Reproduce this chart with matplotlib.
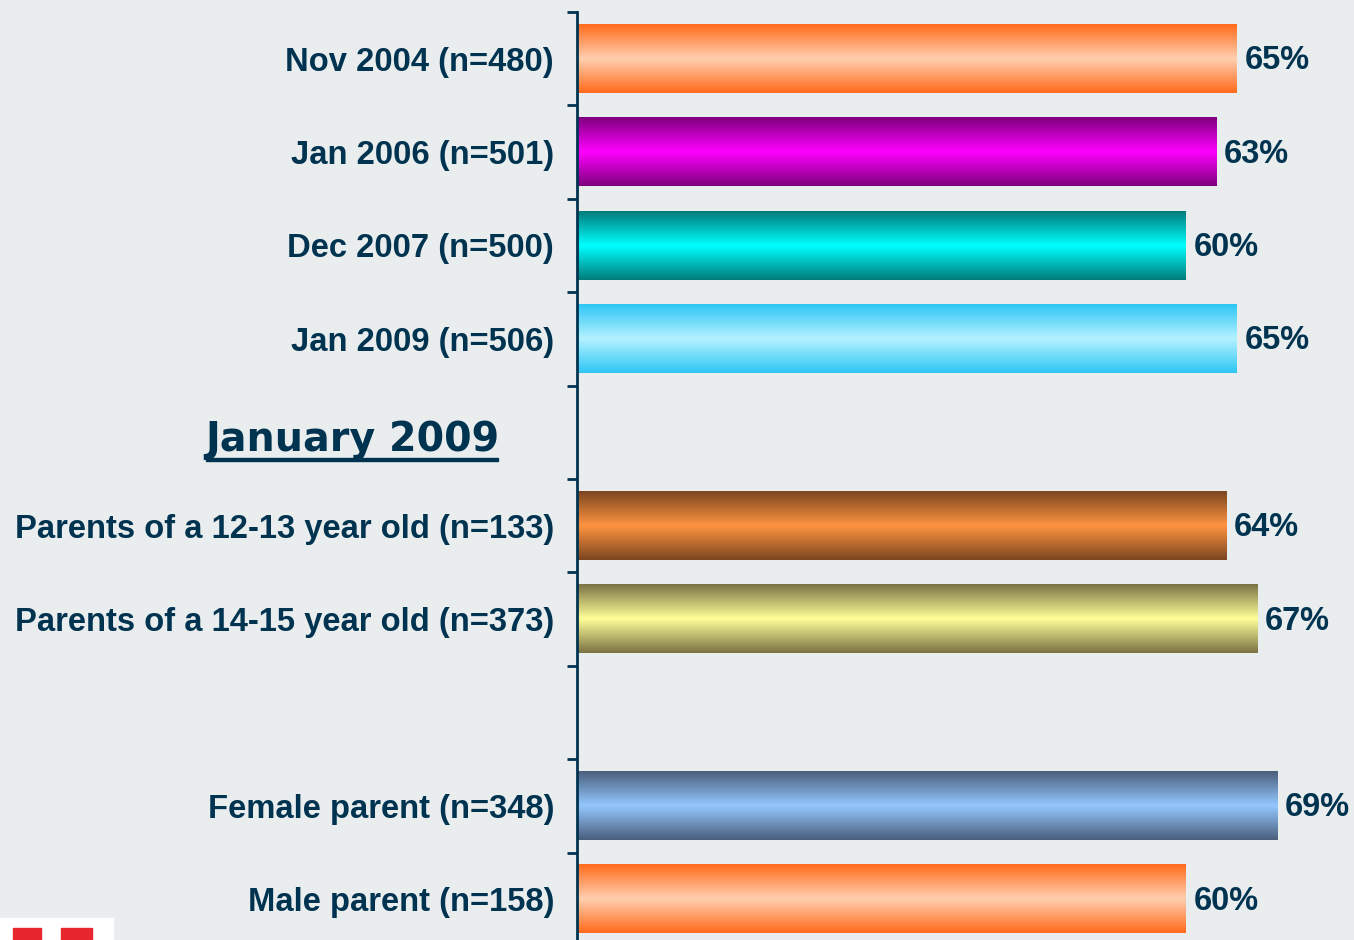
import numpy as np
import matplotlib.pyplot as plt
from matplotlib.colors import LinearSegmentedColormap
from matplotlib.patches import Rectangle

# Data (top to bottom; '' = empty slot)
labels = ['Nov 2004 (n=480)', 'Jan 2006 (n=501)', 'Dec 2007 (n=500)', 'Jan 2009 (n=506)',
          '', 'Parents of a 12-13 year old (n=133)', 'Parents of a 14-15 year old (n=373)',
          '', 'Female parent (n=348)', 'Male parent (n=158)']
values = [65, 63, 60, 65, np.nan, 64, 67, np.nan, 69, 60]
heading = 'January 2009'

# (edge colour, centre colour) for each bar's vertical gradient
edge_colors = ['#FF6A1C', '#7E007E', '#007A7A', '#2EC6F6', None, '#7A4520', '#7A7244', None, '#4A5E7C', '#FF6A1C']
center_colors = ['#FFCFB0', '#FF00FF', '#00FFFF', '#B4F2FF', None, '#FF9440', '#FFFF99', None, '#94C8FF', '#FFCFB0']

text_color = '#003350'
bg = '#E9EDEE'

fig = plt.figure(figsize=(13.54, 9.40), dpi=100, facecolor=bg)
ax = fig.add_axes([577 / 1354, 1 - 946 / 940, 1 - 577 / 1354, 934 / 940])
ax.set_facecolor(bg)

y = np.arange(len(labels))
xmax = (1354 - 577) / 10.15

bar_h = 0.73
bars = ax.barh(y, np.nan_to_num(values), height=bar_h, color='none', edgecolor='none')

for i, b in enumerate(bars):
    if np.isnan(values[i]):
        continue
    cmap = LinearSegmentedColormap.from_list('g', [edge_colors[i], center_colors[i], edge_colors[i]])
    grad = np.linspace(0, 1, 256).reshape(-1, 1)
    x0, y0, w, h = b.get_x(), b.get_y(), b.get_width(), b.get_height()
    ax.imshow(grad, cmap=cmap, aspect='auto', extent=[x0, x0 + w, y0 + h, y0],
              interpolation='bicubic', zorder=2)
    ax.annotate(f'{values[i]:.0f}%', (x0 + w, y[i]), xytext=(5.5, -1.5), textcoords='offset points',
                va='center', ha='left', fontsize=23.5, fontweight='bold',
                family='Liberation Sans', color=text_color)

ax.set_ylim(len(labels) - 0.5, -0.5)
ax.set_xlim(0, xmax)

# y axis styling
ax.set_yticks(y)
ax.set_yticklabels(labels, fontsize=23.6, fontweight='bold', family='Liberation Sans', color=text_color)
ax.tick_params(axis='y', which='major', length=0, pad=16.5)
ax.set_yticks(np.arange(len(labels) + 1) - 0.5, minor=True)
ax.tick_params(axis='y', which='minor', length=7.5, width=2, color=text_color, direction='out')
ax.set_xticks([])
for s in ['top', 'right', 'bottom']:
    ax.spines[s].set_visible(False)
ax.spines['left'].set_color(text_color)
ax.spines['left'].set_linewidth(2)

# section heading
ax.text(352 / 1354, 1 - 440 / 940, heading, transform=fig.transFigure, ha='center', va='center',
        fontsize=28.5, fontweight='bold', family='DejaVu Sans', color=text_color)
fig.add_artist(Rectangle((206 / 1354, 1 - 461 / 940), 292 / 1354, 3 / 940,
                         transform=fig.transFigure, color=text_color))

# logo fragment bottom-left
fig.add_artist(Rectangle((0, 0), 113 / 1354, 22 / 940, transform=fig.transFigure, color='white'))
fig.add_artist(Rectangle((13 / 1354, 0), 28 / 1354, 12 / 940, transform=fig.transFigure, color='#E8262E'))
fig.add_artist(Rectangle((61 / 1354, 0), 31 / 1354, 12 / 940, transform=fig.transFigure, color='#E8262E'))

fig.savefig('out.png', dpi=100, facecolor=bg)
